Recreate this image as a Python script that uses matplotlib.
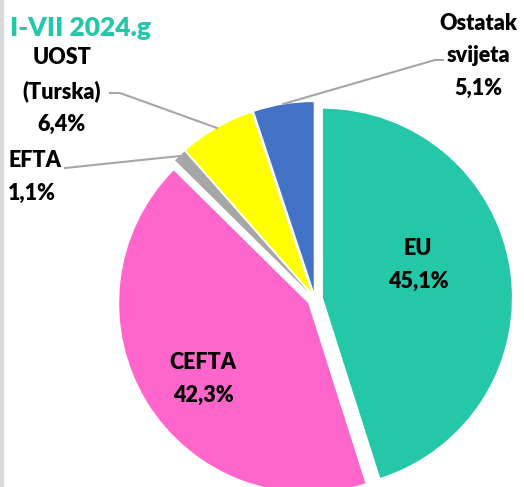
import matplotlib
matplotlib.use('Agg')
import matplotlib.pyplot as plt

plt.rcParams['font.family'] = ['Lato', 'DejaVu Sans']

# Podaci
regije = ['EU', 'CEFTA', 'EFTA', 'UOST\n(Turska)', 'Ostatak\nsvijeta']
udjeli = [45.1, 42.3, 1.1, 6.4, 5.1]
boje = ['#25C7A9', '#FF66CC', '#A6A6A6', '#FFFF00', '#4472C4']
naslov = 'I-VII 2024.g'

W, H = 524, 487


def py(y):
    # piksel od vrha -> koordinata osi
    return H - y


fig = plt.figure(figsize=(W / 100, H / 100), dpi=100)
ax = fig.add_axes([0, 0, 1, 1])

# explode je u jedinicama osi (pikseli)
ax.pie(udjeli, colors=boje, startangle=90, counterclock=False,
       explode=[8] * len(udjeli), radius=189, center=(315, py(299)),
       wedgeprops=dict(linewidth=0))

ax.set_xlim(0, W)
ax.set_ylim(0, H)
ax.set_aspect('equal')
ax.axis('off')


def oznaka(i):
    return f"{regije[i]}\n{udjeli[i]:.1f}%".replace('.', ',')


stil = dict(fontsize=15.5, fontweight='heavy', color='black', linespacing=1.7)

# Oznake unutar pite
ax.text(418, py(265), oznaka(0), ha='center', va='center', **stil)
ax.text(203, py(379), oznaka(1), ha='center', va='center', **stil)

# Oznake izvan pite
ax.text(8, py(177), oznaka(2), ha='left', va='center', **stil)
ax.text(62, py(91), oznaka(3), ha='center', va='center', **stil)
ax.text(478, py(56), oznaka(4), ha='center', va='center', **stil)

# Linije za oznake
siva = '#A6A6A6'
ax.plot([65, 180], [py(168), py(156)], color=siva, lw=1.5)
ax.plot([110, 120, 217], [py(93), py(93), py(128)], color=siva, lw=1.5)
ax.plot([443, 435, 283], [py(60), py(60), py(104)], color=siva, lw=1.5)

# Naslov
ax.text(10, py(28), naslov, ha='left', va='center', fontsize=19,
        fontweight='heavy', color='#25C7A9')

# Lijevi rub
ax.plot([1.5, 1.5], [0, H], color='#D9D9D9', lw=3)

fig.savefig('out.png', dpi=100)
